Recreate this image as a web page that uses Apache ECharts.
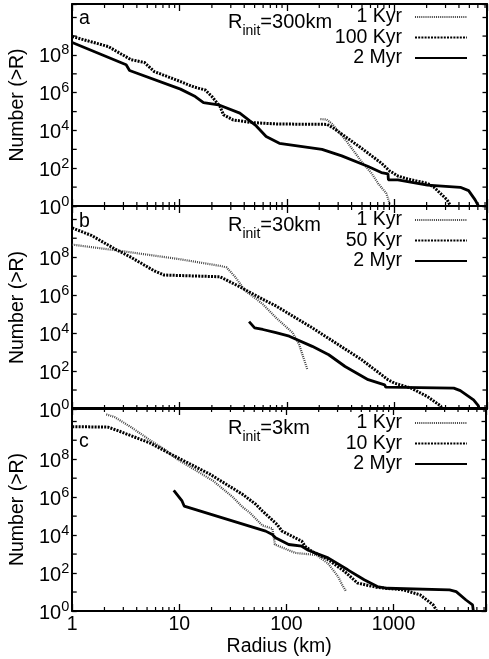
<!DOCTYPE html>
<html><head><meta charset="utf-8">
<script src="https://cdn.jsdelivr.net/npm/echarts@6/dist/echarts.min.js"></script>
<style>html,body{margin:0;padding:0;background:#fff}#c{width:489px;height:659px}</style>
</head><body><div id="c"></div>
<script>
// ---------- labels ----------
const panelLetters = ['a', 'b', 'c'];
const rInitLabels = ['300km', '30km', '3km'];
const seriesNames = [
  ['1 Kyr', '100 Kyr', '2 Myr'],
  ['1 Kyr', '50 Kyr', '2 Myr'],
  ['1 Kyr', '10 Kyr', '2 Myr']
];
const xAxisTitle = 'Radius (km)';
const yAxisTitle = 'Number (>R)';
const xMinorTicks = [2,3,4,5,6,7,8,9,20,30,40,50,60,70,80,90,200,300,400,500,600,700,800,900,2000,3000,4000,5000,6000,7000];
const yMinorTicks = [1e1, 1e3, 1e5, 1e7, 1e9];
const X_MIN = 1, X_MAX = 7300, Y_MIN = 1, Y_MAX = 5e10;

// ---------- data: [radius km, number > R] ----------
// panel a (R_init = 300 km)
const a_kyr1 = [[205,4.0e4],[234,3.8e4],[263,2.24e4],[302,8.9e3],[361,2.6e3],[495,224],[614,54],[706,15.8],[841,4.7],[904,1.4],[912,1]];
const a_kyr100 = [[1,9.5e8],[2.16,2.8e8],[3.54,5.6e7],[4.7,4.0e7],[5.81,1.32e7],[10.2,3.9e6],[13.6,2.0e6],[17.3,1.41e6],[20,6.3e5],[23.8,1.86e5],[25.6,6.8e4],[31.6,3.6e4],[48.3,2.6e4],[82,2.2e4],[237,2.1e4],[272,1.32e4],[348,4.8e3],[495,1.15e3],[757,186],[904,72],[1080,39],[1334,27],[2037,15.8],[2344,9.8],[3110,2.1],[3334,1]];
const a_myr2 = [[1,4.6e8],[3.18,3.0e7],[3.42,1.5e7],[10.2,1.55e6],[14,6.3e5],[16.7,3.0e5],[23,2.3e5],[36.4,8.3e4],[51.8,1.74e4],[64,4.8e3],[85,2.1e3],[212,1.0e3],[324,450],[571,123],[757,59],[873,50],[881,24],[1080,24],[1122,19.5],[2037,12.9],[4120,9.8],[4920,6.5],[5660,2.1],[6080,1]];
// panel b (R_init = 30 km)
const b_kyr1 = [[1,4.6e8],[2.67,2.24e8],[10,7.9e7],[23.8,3.5e7],[27.4,2.9e7],[33.1,8.9e6],[40.5,1.78e6],[51.8,6.3e5],[59.7,3.3e5],[79,6.5e4],[113,1.05e4],[130,2.5e3],[155,117]];
const b_kyr50 = [[1,3.5e9],[1.52,1.38e9],[2.49,2.75e8],[3.54,9.8e7],[5.81,1.9e7],[7.18,1.15e7],[23.8,9.3e6],[36.4,2.75e6],[59.7,6.0e5],[79,2.7e5],[172,1.9e4],[495,400],[873,35],[1005,23],[1432,12.6],[2037,4.5],[2704,1.45],[2754,1]];
const b_myr2 = [[44.4,4.0e4],[50,1.9e4],[59.7,1.55e4],[79,1.05e4],[105,6.9e3],[172,2.0e3],[245,724],[348,174],[571,35],[813,18.6],[832,14.1],[3580,12.6],[4120,9.3],[5470,3.0],[6080,1.45],[6170,1]];
// panel c (R_init = 3 km)
const c_kyr1 = [[2.08,2.3e10],[2.49,1.66e10],[3.54,4.9e9],[5.41,9.5e8],[7.18,3.5e8],[9.5,1.02e8],[14.5,2.45e7],[20.7,7.2e6],[31.6,1.0e6],[39,3.0e5],[45,1.6e5],[59.7,3.2e4],[74,2.2e4],[78,3.2e3],[121,1.15e3],[190,900],[245,320],[303,66],[330,25],[361,10.5]];
const c_kyr10 = [[1,5.2e9],[2.16,4.9e9],[2.67,3.2e9],[5.41,6.9e8],[8.26,1.9e8],[19.3,1.62e7],[39,1.4e6],[51.8,4.2e5],[59.7,1.86e5],[82,3.6e4],[91,1.62e4],[139,4.8e3],[149,2.6e3],[172,1.41e3],[245,513],[348,123],[462,29.5],[706,17.4],[1242,12.9],[1770,7.1],[2344,2.1],[2518,1.1]];
const c_myr2 = [[8.87,2.3e6],[10.6,6.3e5],[11.1,3.4e5],[64,1.62e4],[73.8,1.07e4],[79,7.2e3],[105,3.2e3],[139,2.6e3],[160,1.58e3],[245,630],[374,148],[532,44],[706,19.5],[873,15.8],[3334,12.9],[3846,10.5],[4750,3.8],[5470,2.1],[5560,1]];

const panelData = [
  [a_kyr1, a_kyr100, a_myr2],
  [b_kyr1, b_kyr50, b_myr2],
  [c_kyr1, c_kyr10, c_myr2]
];

// ---------- styles ----------
const FONT = '"Liberation Sans", Arial, Helvetica, sans-serif';
const FS = 19.5;
const lineStyles = [
  {color: '#444', width: 2.2, type: [1, 1.1]},
  {color: '#000', width: 3, type: [2, 1.2]},
  {color: '#000', width: 2.8, type: 'solid'}
];
const grids = [
  {left: 67, top: 4, width: 420, height: 202},
  {left: 67, top: 206, width: 420, height: 203},
  {left: 67, top: 408, width: 420, height: 203}
];
const legendTops = [7, 210, 413];
const letterY = [19, 221.5, 441.5];
const rinitY = [25, 228, 431.5];

function isPow10(v) {
  const l = Math.log10(v);
  return Math.abs(l - Math.round(l)) < 1e-6;
}
function xFmt(v) { return isPow10(v) ? String(Math.round(v)) : ''; }
function yFmt(v) {
  if (!isPow10(v)) return '';
  const e = Math.round(Math.log10(v));
  if (e > 8) return '';
  return '{b|10}{s|' + e + '}';
}

const xAxes = [], yAxes = [];
for (let i = 0; i < 3; i++) {
  ['bottom', 'top'].forEach(pos => {
    const main = pos === 'bottom' && i === 2;
    xAxes.push({
      type: 'log', logBase: 10, gridIndex: i, position: pos, min: X_MIN, max: X_MAX,
      axisLine: {show: true, onZero: false, lineStyle: {color: '#000', width: 2}},
      axisTick: {show: true, inside: true, length: 7, lineStyle: {color: '#000', width: 1.3}},
      axisLabel: {show: main, formatter: xFmt, fontSize: FS, fontFamily: FONT, color: '#000', margin: 4},
      splitLine: {show: false}, minorTick: {show: false},
      name: main ? xAxisTitle : '', nameLocation: 'middle', nameGap: 26,
      nameTextStyle: {fontSize: FS, fontFamily: FONT, color: '#000'}
    });
  });
  ['left', 'right'].forEach(pos => {
    const main = pos === 'left';
    yAxes.push({
      type: 'log', logBase: 100, gridIndex: i, position: pos, min: Y_MIN, max: Y_MAX,
      axisLine: {show: true, onZero: false, lineStyle: {color: '#000', width: 2}},
      axisTick: {show: true, inside: true, length: 4.5, lineStyle: {color: '#000', width: 1.3}},
      axisLabel: {show: main, formatter: yFmt, margin: 3, color: '#000',
        rich: {
          b: {fontSize: 20, fontFamily: FONT, color: '#000', lineHeight: 24, verticalAlign: 'bottom'},
          s: {fontSize: 14.5, fontFamily: FONT, color: '#000', lineHeight: 14, verticalAlign: 'top'}
        }},
      splitLine: {show: false}, minorTick: {show: false},
      name: main ? yAxisTitle : '', nameLocation: 'middle', nameGap: 34,
      nameTextStyle: {fontSize: FS, fontFamily: FONT, color: '#000'}
    });
  });
}

const series = [];
const legends = [];
for (let i = 0; i < 3; i++) {
  for (let k = 0; k < 3; k++) {
    series.push({
      type: 'line', name: seriesNames[i][k], xAxisIndex: 2 * i, yAxisIndex: 2 * i,
      data: panelData[i][k], symbol: 'none', smooth: false, z: 3 + k,
      lineStyle: lineStyles[k], itemStyle: {color: lineStyles[k].color}
    });
  }
  // minor ticks on x (bottom and top edges)
  series.push({
    type: 'custom', xAxisIndex: 2 * i, yAxisIndex: 2 * i, clip: false, silent: true, z: 10,
    data: xMinorTicks.map(v => [v, Y_MIN]),
    renderItem(params, api) {
      const v = api.value(0);
      const b = api.coord([v, Y_MIN]);
      const t = api.coord([v, Y_MAX]);
      return {type: 'group', children: [
        {type: 'line', shape: {x1: b[0], y1: b[1], x2: b[0], y2: b[1] - 4}, style: {stroke: '#000', lineWidth: 1.2}},
        {type: 'line', shape: {x1: t[0], y1: t[1], x2: t[0], y2: t[1] + 4}, style: {stroke: '#000', lineWidth: 1.2}}
      ]};
    }
  });
  // minor ticks on y (left and right edges)
  series.push({
    type: 'custom', xAxisIndex: 2 * i, yAxisIndex: 2 * i, clip: false, silent: true, z: 10,
    data: yMinorTicks.map(v => [X_MIN, v]),
    renderItem(params, api) {
      const v = api.value(1);
      const l = api.coord([X_MIN, v]);
      const r = api.coord([X_MAX, v]);
      return {type: 'group', children: [
        {type: 'line', shape: {x1: l[0], y1: l[1], x2: l[0] + 4.5, y2: l[1]}, style: {stroke: '#000', lineWidth: 1.3}},
        {type: 'line', shape: {x1: r[0], y1: r[1], x2: r[0] - 4.5, y2: r[1]}, style: {stroke: '#000', lineWidth: 1.3}}
      ]};
    }
  });
  legends.push({
    data: seriesNames[i], orient: 'vertical', align: 'right', right: 21, top: legendTops[i],
    padding: 0, itemWidth: 52, itemHeight: 14, itemGap: 0.5, selectedMode: false,
    itemStyle: {opacity: 0},
    textStyle: {fontSize: FS, fontFamily: FONT, color: '#000', lineHeight: 20, padding: [0, 8, 0, 0]}
  });
}

const graphic = [];
for (let i = 0; i < 3; i++) {
  graphic.push({type: 'text', x: 79, y: letterY[i], z: 20,
    style: {text: panelLetters[i], fontSize: FS, fontFamily: FONT, fill: '#000', verticalAlign: 'middle'}});
  graphic.push({type: 'text', x: 228, y: rinitY[i], z: 20,
    style: {text: '{m|R}{s|init}{m|=' + rInitLabels[i] + '}', verticalAlign: 'middle',
      rich: {
        m: {fontSize: 20, fontFamily: FONT, fill: '#000', lineHeight: 26, verticalAlign: 'top'},
        s: {fontSize: 14, fontFamily: FONT, fill: '#000', lineHeight: 14, verticalAlign: 'bottom'}
      }}});
}

const chart = echarts.init(document.getElementById('c'));
chart.setOption({
  animation: false,
  backgroundColor: '#fff',
  grid: grids,
  xAxis: xAxes,
  yAxis: yAxes,
  legend: legends,
  series: series,
  graphic: graphic
});
</script>
</body></html>
